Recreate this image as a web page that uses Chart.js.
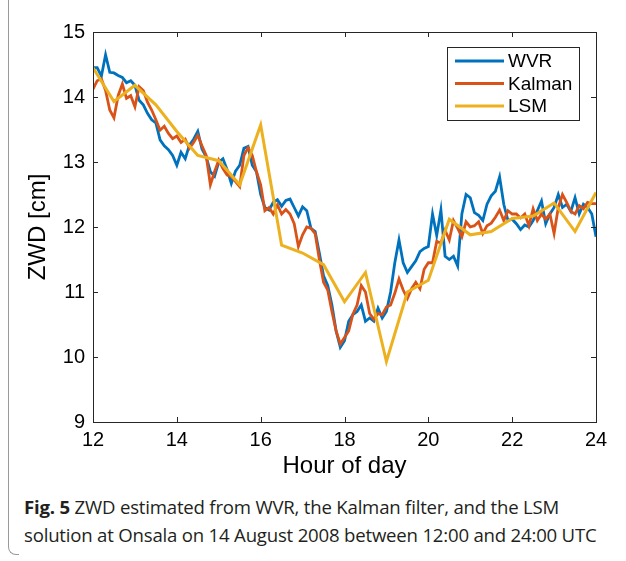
<!DOCTYPE html>
<html>
<head>
<meta charset="utf-8">
<script src="https://cdn.jsdelivr.net/npm/chart.js@4/dist/chart.umd.min.js"></script>
<style>
  html, body { margin: 0; padding: 0; background: #fff; }
  #wrap { position: relative; width: 626px; height: 561px; overflow: hidden; }
  #plot { position: absolute; left: 0; top: 0; width: 626px; height: 485px; }
  #edge { position: absolute; left: 8px; top: -10px; width: 10px; height: 564px;
          border-left: 1px solid #9a9a9a; border-bottom: 1px solid #9a9a9a;
          border-bottom-left-radius: 8px; }
  #caption { position: absolute; left: 24px; top: 493px; width: 600px;
             font-family: "Open Sans", "Noto Sans", sans-serif; font-size: 18.6px;
             letter-spacing: -0.2px; line-height: 28px; color: #231f20; white-space: nowrap; }
  #caption b { font-weight: 700; }
</style>
</head>
<body>
<div id="wrap">
  <div id="edge"></div>
  <div id="plot"><canvas id="c"></canvas></div>
  <div id="caption"><b>Fig. 5</b> ZWD estimated from WVR, the Kalman filter, and the LSM<br>solution at Onsala on 14 August 2008 between 12:00 and 24:00 UTC</div>
</div>
<script>
// hour of day for the WVR / Kalman samples
const hours = [
  12.0, 12.1, 12.2, 12.3, 12.4, 12.5, 12.6, 12.7, 12.8, 12.9, 13.0,
  13.1, 13.2, 13.3, 13.4, 13.5, 13.6, 13.7, 13.8, 13.9, 14.0,
  14.1, 14.2, 14.3, 14.4, 14.5, 14.6, 14.7, 14.8, 14.9, 15.0,
  15.1, 15.2, 15.3, 15.4, 15.5, 15.6, 15.7, 15.8, 15.9, 16.0,
  16.1, 16.2, 16.3, 16.4, 16.5, 16.6, 16.7, 16.8, 16.9, 17.0,
  17.1, 17.2, 17.3, 17.4, 17.5, 17.6, 17.7, 17.8, 17.9, 18.0,
  18.1, 18.2, 18.3, 18.4, 18.5, 18.6, 18.7, 18.8, 18.9, 19.0,
  19.1, 19.2, 19.3, 19.4, 19.5, 19.6, 19.7, 19.8, 19.9, 20.0,
  20.1, 20.2, 20.3, 20.4, 20.5, 20.6, 20.7, 20.8, 20.9, 21.0,
  21.1, 21.2, 21.3, 21.4, 21.5, 21.6, 21.7, 21.8, 21.9, 22.0,
  22.1, 22.2, 22.3, 22.4, 22.5, 22.6, 22.7, 22.8, 22.9, 23.0,
  23.1, 23.2, 23.3, 23.4, 23.5, 23.6, 23.7, 23.8, 23.9, 24.0
];

// ZWD [cm]
const wvr = [
  14.45, 14.45, 14.32, 14.65, 14.38, 14.37, 14.33, 14.30, 14.22, 14.25, 14.18,
  13.95, 13.88, 13.75, 13.65, 13.60, 13.34, 13.25, 13.19, 13.10, 12.95,
  13.15, 13.05, 13.26, 13.35, 13.47, 13.20, 13.08, 12.85, 12.78, 13.00,
  13.05, 12.88, 12.67, 12.86, 12.95, 13.21, 13.24, 12.95, 12.85, 12.50,
  12.30, 12.26, 12.38, 12.42, 12.32, 12.41, 12.43, 12.30, 12.17, 12.31,
  12.25, 11.98, 11.93, 11.60, 11.25, 11.10, 10.80, 10.40, 10.15, 10.25,
  10.55, 10.65, 10.70, 10.80, 10.55, 10.60, 10.55, 10.75, 10.60, 10.70,
  11.00, 11.45, 11.80, 11.45, 11.30, 11.39, 11.48, 11.62, 11.67, 11.70,
  12.20, 11.87, 12.26, 11.55, 11.50, 11.55, 11.40, 12.20, 12.50, 12.45,
  12.22, 12.18, 12.10, 12.35, 12.48, 12.55, 12.77, 12.35, 12.10, 12.12,
  12.05, 11.96, 12.03, 12.00, 12.10, 12.25, 12.40, 12.05, 12.20, 12.30,
  12.50, 12.30, 12.35, 12.24, 12.45, 12.20, 12.35, 12.30, 12.20, 11.85
];

const kalman = [
  14.12, 14.25, 14.28, 14.10, 13.80, 13.68, 14.02, 14.20, 13.98, 14.02, 13.85,
  14.16, 14.10, 13.92, 13.80, 13.65, 13.49, 13.55, 13.44, 13.36, 13.40,
  13.30, 13.35, 13.21, 13.30, 13.41, 13.25, 13.10, 12.65, 12.85, 13.03,
  12.90, 12.80, 12.78, 12.70, 12.62, 13.10, 13.22, 13.10, 12.85, 12.65,
  12.25, 12.30, 12.20, 12.34, 12.20, 12.27, 12.20, 12.05, 11.70, 11.88,
  12.00, 11.98, 11.90, 11.50, 11.15, 11.03, 10.70, 10.40, 10.20, 10.30,
  10.40, 10.66, 10.80, 11.10, 11.00, 10.67, 10.58, 10.67, 10.65, 10.77,
  10.80, 10.98, 11.20, 11.03, 10.90, 11.05, 11.15, 11.05, 11.35, 11.45,
  11.45, 11.78, 11.75, 11.95, 11.80, 12.10, 11.98, 11.85, 12.08, 12.00,
  12.02, 12.08, 11.90, 12.02, 12.06, 12.15, 12.26, 12.10, 12.25, 12.20,
  12.20, 12.14, 12.20, 12.02, 12.28, 12.10, 12.20, 12.12, 12.20, 11.90,
  12.30, 12.50, 12.38, 12.24, 12.20, 12.33, 12.28, 12.38, 12.36, 12.36
];

// LSM solution, half-hourly
const lsmHours = [12.0, 12.5, 13.0, 13.5, 14.0, 14.5, 15.0, 15.5, 16.0, 16.5, 17.0, 17.5,
                  18.0, 18.5, 19.0, 19.5, 20.0, 20.5, 21.0, 21.5, 22.0, 22.5, 23.0, 23.5, 24.0];
const lsm = [14.45, 13.93, 14.18, 13.88, 13.47, 13.10, 13.02, 12.65, 13.57, 11.72, 11.60, 11.42,
             10.85, 11.30, 9.93, 11.00, 11.18, 12.12, 11.88, 11.93, 12.13, 12.17, 12.37, 11.93, 12.53];

const seriesNames = ['WVR', 'Kalman', 'LSM'];
const seriesColors = ['#0072BD', '#D95319', '#EDB120'];

const toPoints = (xs, ys) => xs.map((x, i) => ({ x, y: ys[i] }));

const axisColor = '#262626';
const tickFont = { family: 'Liberation Sans, Arial, sans-serif', size: 20 };

// box round the axes, inward tick marks on all sides, and the legend inside
const matlabAxes = {
  id: 'matlabAxes',
  afterDatasetsDraw(chart) {
    const { ctx, chartArea: a, scales: { x, y } } = chart;
    ctx.save();
    ctx.strokeStyle = axisColor;
    ctx.lineWidth = 1;
    ctx.strokeRect(a.left + 0.5, a.top + 0.5, a.right - a.left, a.bottom - a.top);

    const tl = 5;
    ctx.beginPath();
    x.ticks.forEach(t => {
      const px = Math.round(x.getPixelForValue(t.value)) + 0.5;
      ctx.moveTo(px, a.bottom); ctx.lineTo(px, a.bottom - tl);
      ctx.moveTo(px, a.top); ctx.lineTo(px, a.top + tl);
    });
    y.ticks.forEach(t => {
      const py = Math.round(y.getPixelForValue(t.value)) + 0.5;
      ctx.moveTo(a.left, py); ctx.lineTo(a.left + tl, py);
      ctx.moveTo(a.right, py); ctx.lineTo(a.right - tl, py);
    });
    ctx.stroke();

    // legend
    const bx = a.right - 149, by = a.top + 15, bw = 132, bh = 73;
    ctx.fillStyle = '#fff';
    ctx.fillRect(bx, by, bw, bh);
    ctx.strokeRect(bx + 0.5, by + 0.5, bw, bh);
    ctx.font = '19px Liberation Sans, Arial, sans-serif';
    ctx.textBaseline = 'middle';
    ctx.textAlign = 'left';
    seriesNames.forEach((name, i) => {
      const ly = by + 14 + i * 22.5;
      ctx.strokeStyle = seriesColors[i];
      ctx.lineWidth = 3;
      ctx.beginPath();
      ctx.moveTo(bx + 8, ly); ctx.lineTo(bx + 57, ly);
      ctx.stroke();
      ctx.fillStyle = '#000';
      ctx.fillText(name, bx + 61, ly + 1);
    });
    ctx.restore();
  }
};

new Chart(document.getElementById('c').getContext('2d'), {
  type: 'line',
  data: {
    datasets: [
      { label: seriesNames[0], data: toPoints(hours, wvr), borderColor: seriesColors[0],
        borderWidth: 2.8, pointRadius: 0, tension: 0, order: 3 },
      { label: seriesNames[1], data: toPoints(hours, kalman), borderColor: seriesColors[1],
        borderWidth: 2.8, pointRadius: 0, tension: 0, order: 2 },
      { label: seriesNames[2], data: toPoints(lsmHours, lsm), borderColor: seriesColors[2],
        borderWidth: 3, pointRadius: 0, tension: 0, order: 1 },
    ],
  },
  options: {
    responsive: true,
    maintainAspectRatio: false,
    animation: false,
    layout: { padding: { top: 32, right: 30, left: 0, bottom: 0 } },
    plugins: { legend: { display: false }, tooltip: { enabled: false } },
    scales: {
      x: {
        type: 'linear', min: 12, max: 24,
        afterFit: s => { s.height = 63; },
        grid: { display: false, drawTicks: false },
        border: { display: false },
        ticks: { stepSize: 2, color: '#000', font: tickFont, padding: 6 },
        title: { display: true, text: 'Hour of day', color: '#000',
                 font: { family: 'Liberation Sans, Arial, sans-serif', size: 24 },
                 padding: { top: 0, bottom: 4 } },
      },
      y: {
        min: 9, max: 15,
        afterFit: s => { s.width = 93; },
        grid: { display: false, drawTicks: false },
        border: { display: false },
        ticks: { stepSize: 1, color: '#000', font: tickFont, padding: 8 },
        title: { display: true, text: 'ZWD [cm]', color: '#000',
                 font: { family: 'Liberation Sans, Arial, sans-serif', size: 24 },
                 padding: { top: 24, bottom: 0 } },
      },
    },
  },
  plugins: [matlabAxes],
});
</script>
</body>
</html>
